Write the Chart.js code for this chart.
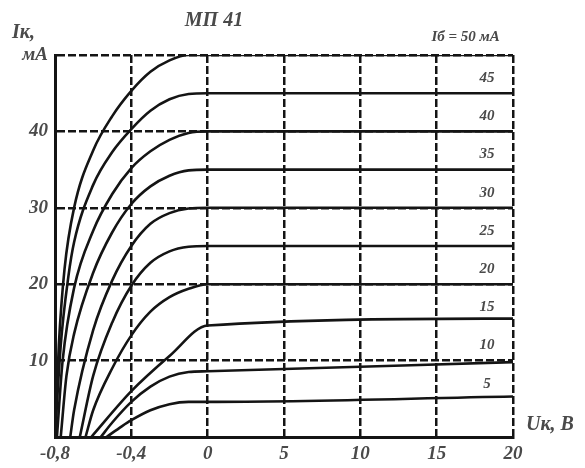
<!DOCTYPE html>
<html>
<head>
<meta charset="utf-8">
<script src="https://cdn.jsdelivr.net/npm/chart.js@4.4.0/dist/chart.umd.min.js"></script>
<style>
  html, body { margin: 0; padding: 0; background: #fff; }
</style>
</head>
<body>
<canvas id="chart" width="585" height="468"></canvas>
<script>
// МП 41 output characteristics, Iк vs Uк for several base currents

const xTickLabels = ['-0,8', '-0,4', '0', '5', '10', '15', '20'];
const yTickLabels = ['', '10', '20', '30', '40', 'мА'];
const baseCurrents = [50, 45, 40, 35, 30, 25, 20, 15, 10, 5];

// Uк (V) and Iк (mA), one pair of arrays per curve
const uk50 = [-0.8, -0.78, -0.75, -0.7, -0.6, -0.5, -0.4, -0.3, -0.2, -0.1, 20];
const ik50 = [0, 12, 22, 30, 37.5, 42, 45.3, 47.8, 49.3, 50, 50];
const uk45 = [-0.8, -0.77, -0.73, -0.7, -0.6, -0.5, -0.4, -0.3, -0.2, -0.1, 0, 20];
const ik45 = [0, 12, 21, 25.5, 33, 37.3, 40.3, 42.7, 44.2, 44.9, 45, 45];
const uk40 = [-0.79, -0.76, -0.7, -0.6, -0.5, -0.4, -0.3, -0.2, -0.1, 0, 20];
const ik40 = [0, 10, 19.5, 27, 31.8, 35.2, 37.4, 38.9, 39.8, 40, 40];
const uk35 = [-0.77, -0.74, -0.7, -0.6, -0.5, -0.4, -0.3, -0.2, -0.1, 0, 20];
const ik35 = [0, 8, 13.5, 21.5, 26.8, 30.5, 32.8, 34.2, 34.9, 35, 35];
const uk30 = [-0.72, -0.7, -0.6, -0.5, -0.4, -0.3, -0.2, -0.1, 0, 20];
const ik30 = [0, 3.5, 14, 20.5, 25, 27.9, 29.3, 29.9, 30, 30];
const uk25 = [-0.67, -0.6, -0.5, -0.4, -0.3, -0.2, -0.1, 0, 20];
const ik25 = [0, 8, 15, 19.8, 22.8, 24.3, 24.9, 25, 25];
const uk20 = [-0.64, -0.6, -0.5, -0.4, -0.3, -0.2, -0.1, 0, 20];
const ik20 = [0, 3.5, 9, 13.3, 16.4, 18.3, 19.4, 20, 20];
const uk15 = [-0.61, -0.4, -0.2, 0, 20];
const ik15 = [0, 6, 10.6, 14.6, 15.5];
const uk10 = [-0.56, -0.5, -0.4, -0.3, -0.2, -0.1, 0, 20];
const ik10 = [0, 1.9, 4.6, 6.6, 7.9, 8.5, 8.6, 9.8];
const uk5 = [-0.53, -0.45, -0.4, -0.3, -0.2, -0.1, 0, 20];
const ik5 = [0, 1.4, 2.2, 3.5, 4.3, 4.6, 4.6, 5.3];

const curves = [
  [uk50, ik50], [uk45, ik45], [uk40, ik40], [uk35, ik35], [uk30, ik30],
  [uk25, ik25], [uk20, ik20], [uk15, ik15], [uk10, ik10], [uk5, ik5]
];

// the negative part of the axis is stretched: 0,4 V per division, then 5 V per division
function toDiv(v) {
  return v < 0 ? v / 0.4 : v / 5;
}

const ink = '#141414';
const textGrey = '#4a4a4a';
const serif = '"Liberation Serif", "DejaVu Serif", serif';

const datasets = curves.map(([u, i], n) => ({
  label: 'Iб = ' + baseCurrents[n] + ' мА',
  data: u.map((v, k) => ({ x: toDiv(v), y: i[k] })),
  borderColor: ink,
  borderWidth: 2.6,
  pointRadius: 0,
  fill: false,
  cubicInterpolationMode: 'monotone',
}));

const textPlugin = {
  id: 'textPlugin',
  afterDraw(chart) {
    const { ctx, scales: { x, y } } = chart;
    ctx.save();
    ctx.fillStyle = textGrey;
    ctx.textBaseline = 'middle';

    // curve labels near the right edge
    ctx.font = 'italic bold 15px ' + serif;
    ctx.textAlign = 'center';
    baseCurrents.forEach((ib) => {
      if (ib === 50) return;
      ctx.fillText(String(ib), x.getPixelForValue(toDiv(18.3)), y.getPixelForValue(ib) - 15);
    });
    ctx.fillText('Iб = 50 мА', x.getPixelForValue(toDiv(16.9)), y.top - 18);

    ctx.font = 'italic bold 20px ' + serif;
    ctx.fillText('МП 41', 214, 21);
    ctx.textAlign = 'left';
    ctx.fillText('Iк,', 12, 33);
    ctx.fillText('Uк, В', x.right + 13, y.bottom - 12);
    ctx.restore();
  }
};

const ctx = document.getElementById('chart').getContext('2d');
new Chart(ctx, {
  type: 'line',
  data: { datasets },
  plugins: [textPlugin],
  options: {
    responsive: false,
    animation: false,
    layout: { padding: { left: 0, right: 72, top: 55, bottom: 0 } },
    plugins: { legend: { display: false }, tooltip: { enabled: false } },
    scales: {
      x: {
        type: 'linear',
        min: -2,
        max: 4,
        afterBuildTicks: (s) => { s.ticks = xTickLabels.map((_, k) => ({ value: k - 2 })); },
        afterFit: (s) => { s.height = 31; },
        ticks: {
          callback: (v) => xTickLabels[v + 2],
          color: textGrey,
          font: { family: serif, size: 19, style: 'italic', weight: 'bold' },
          padding: 6,
          maxRotation: 0,
        },
        grid: { color: ink, lineWidth: 2.5, drawTicks: false },
        border: { display: true, color: ink, width: 3, dash: [8, 3] },
      },
      y: {
        min: 0,
        max: 50,
        afterBuildTicks: (s) => { s.ticks = yTickLabels.map((_, k) => ({ value: k * 10 })); },
        afterFit: (s) => { s.width = 55; },
        ticks: {
          callback: (v) => yTickLabels[v / 10],
          color: textGrey,
          font: { family: serif, size: 19, style: 'italic', weight: 'bold' },
          padding: 7,
        },
        grid: { color: ink, lineWidth: 2.5, drawTicks: false },
        border: { display: true, color: ink, width: 3, dash: [8, 3] },
      },
    },
  },
});
</script>
</body>
</html>
